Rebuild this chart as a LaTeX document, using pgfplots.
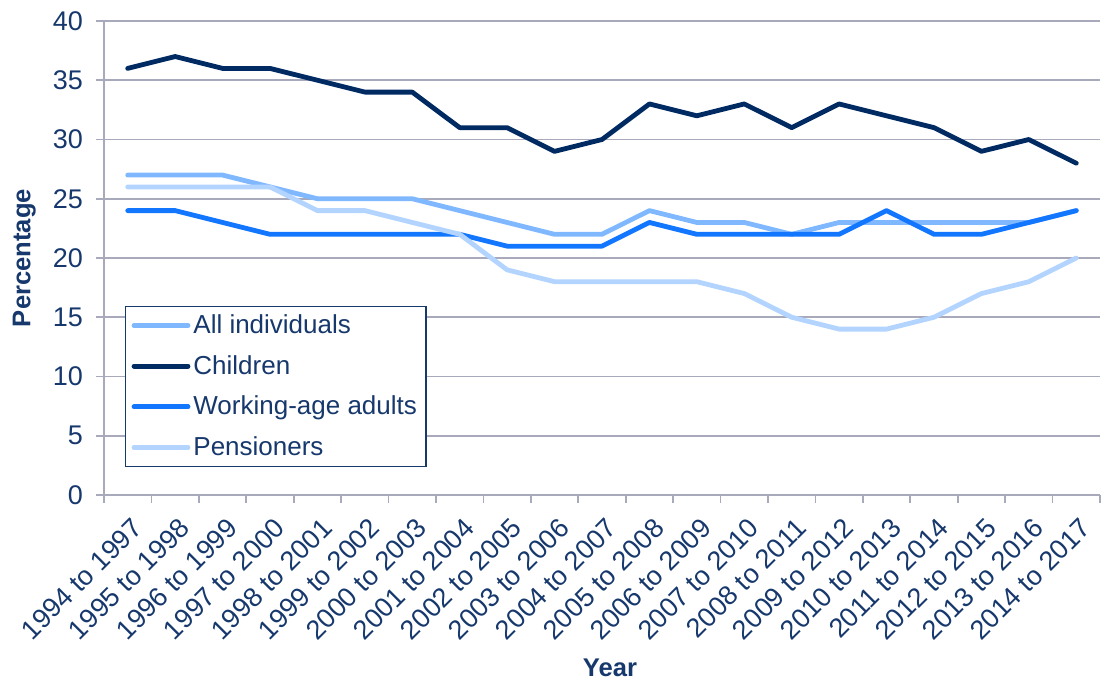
\documentclass[border=0pt]{standalone}
\usepackage{pgfplots}
\pgfplotsset{compat=1.18}
\usepackage{fontspec}
\setmainfont{Liberation Sans}
\definecolor{txt}{RGB}{22,56,108}
\definecolor{gridc}{RGB}{168,170,188}
\definecolor{cChild}{RGB}{0,42,98}
\definecolor{cWork}{RGB}{18,118,255}
\definecolor{cAll}{RGB}{128,184,255}
\definecolor{cPen}{RGB}{178,212,255}
\begin{document}
\begin{tikzpicture}
\begin{axis}[
  name=main,
  scale only axis, width=498pt, height=237pt,
  xmin=-0.5, xmax=20.5, ymin=0, ymax=40,
  axis x line=bottom, axis y line=left, axis line style={-, draw=gridc, line width=0.8pt},
  ytick={0,5,...,40},
  ymajorgrids, grid style={draw=gridc, line width=0.8pt},
  xtick={0,...,20},
  xticklabels={1994 to 1997,1995 to 1998,1996 to 1999,1997 to 2000,1998 to 2001,1999 to 2002,2000 to 2003,2001 to 2004,2002 to 2005,2003 to 2006,2004 to 2007,2005 to 2008,2006 to 2009,2007 to 2010,2008 to 2011,2009 to 2012,2010 to 2013,2011 to 2014,2012 to 2015,2013 to 2016,2014 to 2017},
  minor xtick={-0.5,0.5,...,20.5},
  major x tick style={draw=none},
  tick align=outside, major tick length=4pt, minor tick length=4pt,
  tick style={draw=gridc, line width=0.8pt},
  tick label style={font=\fontsize{13.5}{16}\selectfont, text=txt},
  /pgf/number format/assume math mode=true,
  xticklabel style={xshift=1.5pt, yshift=-5pt, rotate=45, anchor=north east, inner sep=1pt},
  yticklabel style={xshift=-3pt},
  xlabel={Year}, ylabel={Percentage},
  label style={font=\fontsize{12.8}{15}\selectfont\bfseries, text=txt},
  xlabel style={at={(axis description cs:0.508,-0.365)}, anchor=center},
  ylabel style={at={(axis description cs:-0.080,0.5)}, anchor=center},
  legend style={at={(axis description cs:0.0211,0.3987)}, anchor=north west,
    draw=txt, line width=0.6pt, font=\fontsize{13}{15}\selectfont, text=txt,
    row sep=5.4pt, inner xsep=3pt, inner ysep=2pt,
    nodes={inner xsep=1.5pt, inner ysep=2pt}},
  legend cell align=left,
  legend image code/.code={\draw[#1, line width=2.4pt] (0pt,0pt) -- (27pt,0pt);},
  every axis plot/.append style={line width=2.4pt, line join=round, line cap=round},
]
\addplot[cAll] coordinates {(0,27)(1,27)(2,27)(3,26)(4,25)(5,25)(6,25)(7,24)(8,23)(9,22)(10,22)(11,24)(12,23)(13,23)(14,22)(15,23)(16,23)(17,23)(18,23)(19,23)(20,24)};
\addlegendentry{All individuals}
\addplot[cChild] coordinates {(0,36)(1,37)(2,36)(3,36)(4,35)(5,34)(6,34)(7,31)(8,31)(9,29)(10,30)(11,33)(12,32)(13,33)(14,31)(15,33)(16,32)(17,31)(18,29)(19,30)(20,28)};
\addlegendentry{Children}
\addplot[cWork] coordinates {(0,24)(1,24)(2,23)(3,22)(4,22)(5,22)(6,22)(7,22)(8,21)(9,21)(10,21)(11,23)(12,22)(13,22)(14,22)(15,22)(16,24)(17,22)(18,22)(19,23)(20,24)};
\addlegendentry{Working-age adults}
\addplot[cPen] coordinates {(0,26)(1,26)(2,26)(3,26)(4,24)(5,24)(6,23)(7,22)(8,19)(9,18)(10,18)(11,18)(12,18)(13,17)(14,15)(15,14)(16,14)(17,15)(18,17)(19,18)(20,20)};
\addlegendentry{Pensioners}
\end{axis}
\pgfresetboundingbox
\path (main.north west) ++(-52pt,10.5pt) coordinate (tl) (tl) rectangle ++(552pt,-341pt);
\end{tikzpicture}
\end{document}
